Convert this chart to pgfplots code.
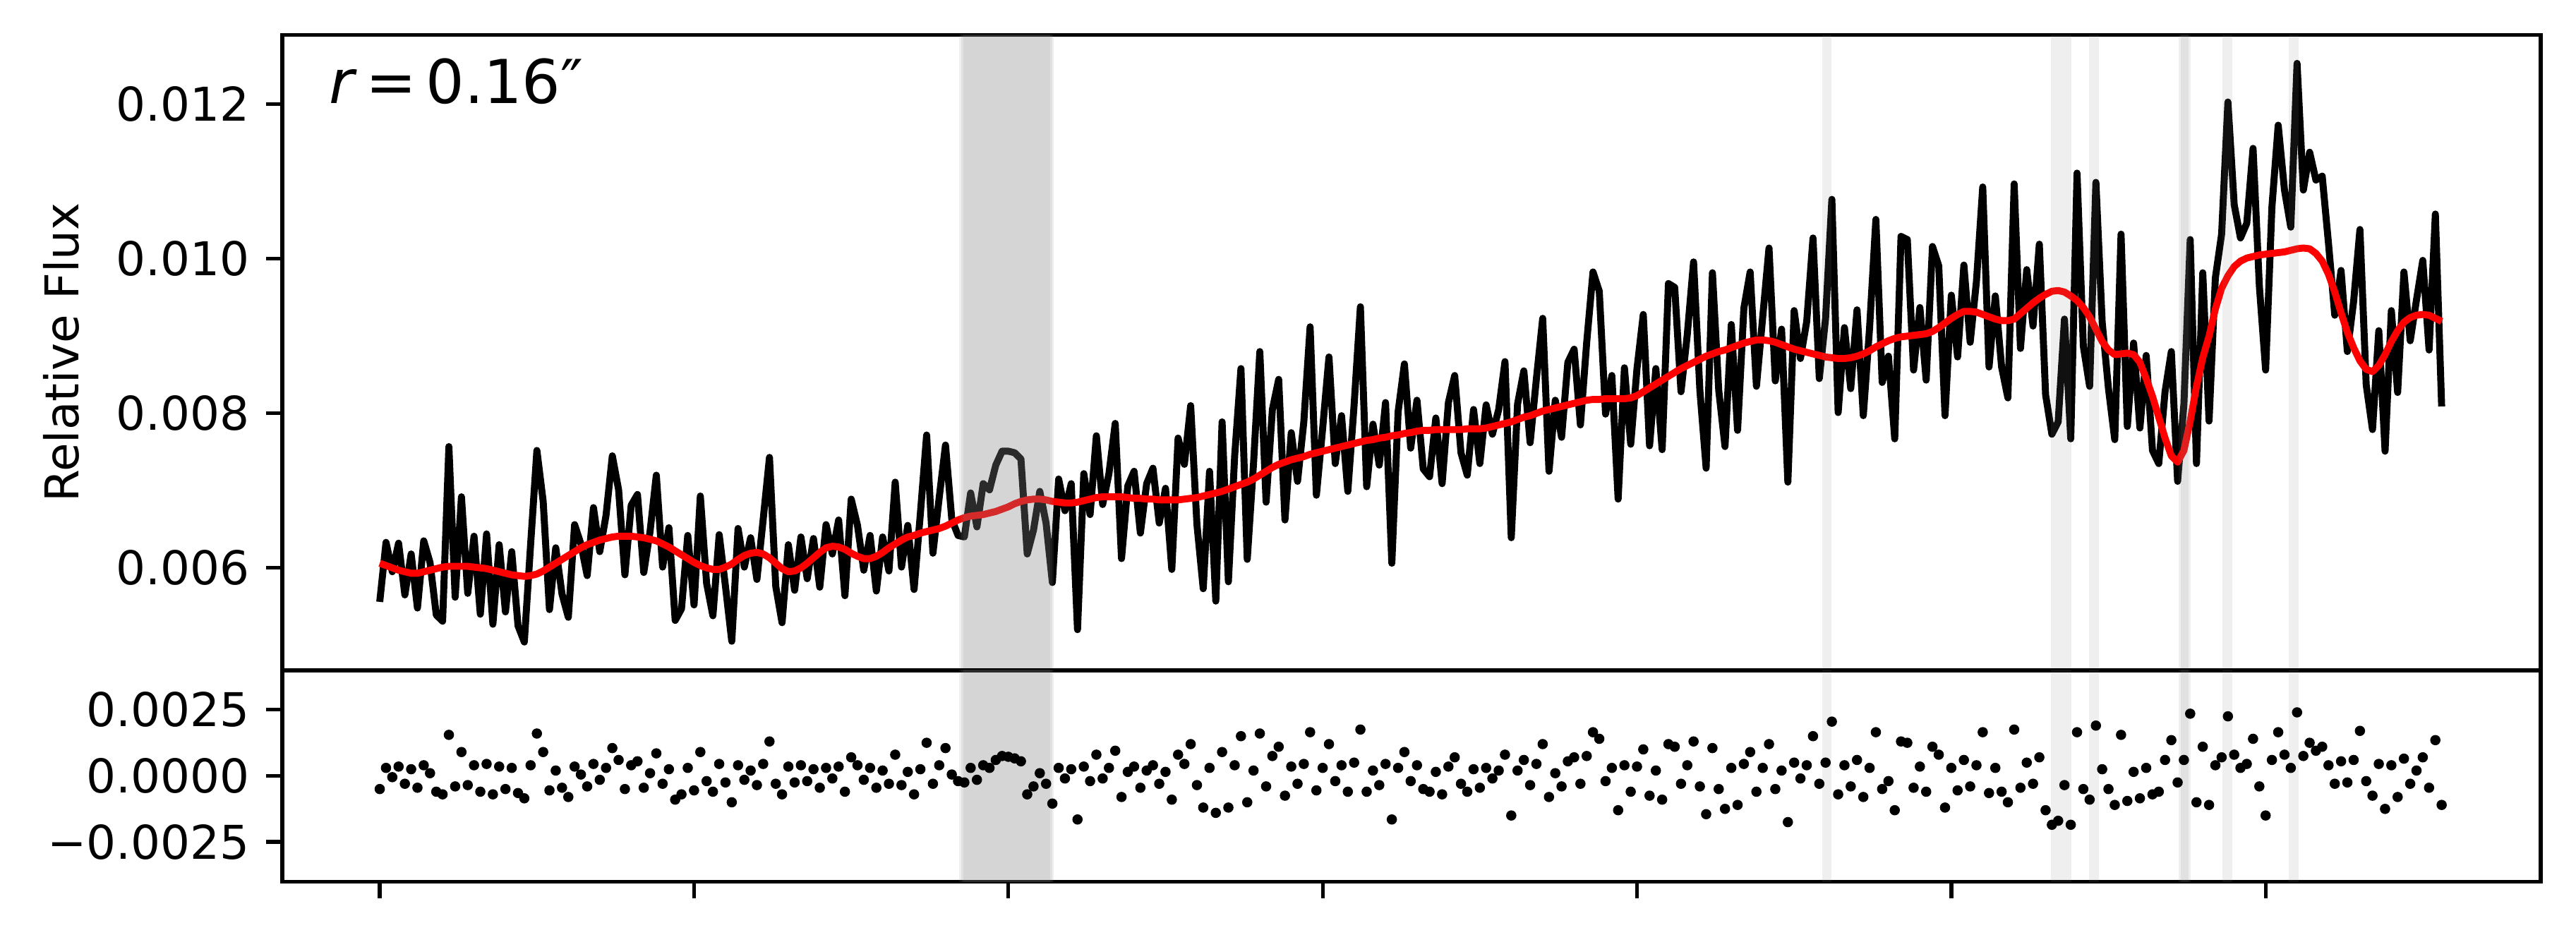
\documentclass[border=0pt]{standalone}
\usepackage{fontspec}
\setmainfont{DejaVu Sans}
\usepackage{pgfplots}
\usepackage{pgfplotstable}
\pgfplotsset{compat=1.18}

% x (tick units), m = model (red), r = residual; data = m + r
\pgfplotstableread{
x m r
0.00 0.00606 -0.00050
0.02 0.00603 0.00030
0.04 0.00600 -0.00005
0.06 0.00597 0.00035
0.08 0.00595 -0.00030
0.10 0.00593 0.00025
0.12 0.00593 -0.00045
0.14 0.00595 0.00040
0.16 0.00597 0.00010
0.18 0.00599 -0.00060
0.20 0.00601 -0.00070
0.22 0.00602 0.00155
0.24 0.00602 -0.00040
0.26 0.00602 0.00090
0.28 0.00602 -0.00035
0.30 0.00601 0.00040
0.32 0.00600 -0.00060
0.34 0.00599 0.00045
0.36 0.00597 -0.00070
0.38 0.00595 0.00035
0.40 0.00593 -0.00050
0.42 0.00591 0.00030
0.44 0.00590 -0.00065
0.46 0.00589 -0.00085
0.48 0.00590 0.00040
0.50 0.00592 0.00160
0.52 0.00596 0.00090
0.54 0.00601 -0.00055
0.56 0.00606 0.00020
0.58 0.00611 -0.00045
0.60 0.00616 -0.00080
0.62 0.00621 0.00035
0.64 0.00626 0.00005
0.66 0.00630 -0.00040
0.68 0.00633 0.00045
0.70 0.00636 -0.00015
0.72 0.00638 0.00030
0.74 0.00640 0.00105
0.76 0.00641 0.00060
0.78 0.00641 -0.00050
0.80 0.00641 0.00040
0.82 0.00640 0.00055
0.84 0.00639 -0.00045
0.86 0.00637 0.00010
0.88 0.00635 0.00085
0.90 0.00631 -0.00030
0.92 0.00627 0.00025
0.94 0.00622 -0.00090
0.96 0.00617 -0.00070
0.98 0.00612 0.00030
1.00 0.00607 -0.00055
1.02 0.00603 0.00090
1.04 0.00600 -0.00020
1.06 0.00598 -0.00060
1.08 0.00598 0.00045
1.10 0.00601 -0.00025
1.12 0.00605 -0.00100
1.14 0.00611 0.00040
1.16 0.00616 -0.00015
1.18 0.00619 0.00020
1.20 0.00620 -0.00035
1.22 0.00618 0.00045
1.24 0.00613 0.00130
1.26 0.00606 -0.00030
1.28 0.00599 -0.00070
1.30 0.00595 0.00035
1.32 0.00596 -0.00025
1.34 0.00600 0.00040
1.36 0.00606 -0.00020
1.38 0.00613 0.00025
1.40 0.00620 -0.00045
1.42 0.00626 0.00030
1.44 0.00628 -0.00010
1.46 0.00627 0.00035
1.48 0.00624 -0.00060
1.50 0.00619 0.00070
1.52 0.00615 0.00040
1.54 0.00612 -0.00015
1.56 0.00612 0.00030
1.58 0.00615 -0.00045
1.60 0.00620 0.00020
1.62 0.00626 -0.00030
1.64 0.00631 0.00080
1.66 0.00636 -0.00035
1.68 0.00640 0.00015
1.70 0.00642 -0.00070
1.72 0.00645 0.00025
1.74 0.00647 0.00125
1.76 0.00649 -0.00030
1.78 0.00651 0.00040
1.80 0.00654 0.00105
1.82 0.00658 0.00005
1.84 0.00662 -0.00020
1.86 0.00665 -0.00025
1.88 0.00667 0.00030
1.90 0.00668 -0.00015
1.92 0.00669 0.00040
1.94 0.00671 0.00030
1.96 0.00673 0.00060
1.98 0.00676 0.00075
2.00 0.00679 0.00072
2.02 0.00683 0.00066
2.04 0.00686 0.00055
2.06 0.00688 -0.00070
2.08 0.00689 -0.00040
2.10 0.00689 0.00010
2.12 0.00688 -0.00030
2.14 0.00686 -0.00105
2.16 0.00685 0.00030
2.18 0.00684 -0.00010
2.20 0.00684 0.00025
2.22 0.00685 -0.00165
2.24 0.00687 0.00035
2.26 0.00689 -0.00020
2.28 0.00691 0.00080
2.30 0.00692 -0.00010
2.32 0.00692 0.00030
2.34 0.00692 0.00095
2.36 0.00692 -0.00080
2.38 0.00691 0.00015
2.40 0.00690 0.00035
2.42 0.00690 -0.00045
2.44 0.00689 0.00020
2.46 0.00689 0.00040
2.48 0.00688 -0.00030
2.50 0.00688 0.00015
2.52 0.00688 -0.00090
2.54 0.00688 0.00080
2.56 0.00689 0.00045
2.58 0.00690 0.00120
2.60 0.00691 -0.00035
2.62 0.00693 -0.00120
2.64 0.00695 0.00030
2.66 0.00697 -0.00140
2.68 0.00699 0.00090
2.70 0.00702 -0.00120
2.72 0.00705 0.00040
2.74 0.00708 0.00150
2.76 0.00711 -0.00100
2.78 0.00715 0.00020
2.80 0.00720 0.00160
2.82 0.00725 -0.00040
2.84 0.00730 0.00075
2.86 0.00734 0.00110
2.88 0.00737 -0.00075
2.90 0.00740 0.00035
2.92 0.00742 -0.00030
2.94 0.00744 0.00045
2.96 0.00747 0.00165
2.98 0.00749 -0.00055
3.00 0.00751 0.00030
3.02 0.00753 0.00120
3.04 0.00755 -0.00020
3.06 0.00757 0.00040
3.08 0.00759 -0.00060
3.10 0.00761 0.00050
3.12 0.00763 0.00175
3.14 0.00765 -0.00060
3.16 0.00766 0.00020
3.18 0.00768 -0.00035
3.20 0.00769 0.00045
3.22 0.00771 -0.00165
3.24 0.00772 0.00030
3.26 0.00774 0.00090
3.28 0.00775 -0.00020
3.30 0.00777 0.00040
3.32 0.00778 -0.00050
3.34 0.00778 -0.00060
3.36 0.00779 0.00015
3.38 0.00779 -0.00070
3.40 0.00779 0.00035
3.42 0.00779 0.00070
3.44 0.00779 -0.00030
3.46 0.00780 -0.00060
3.48 0.00780 0.00025
3.50 0.00780 -0.00045
3.52 0.00781 0.00030
3.54 0.00783 -0.00010
3.56 0.00785 0.00020
3.58 0.00787 0.00080
3.60 0.00789 -0.00150
3.62 0.00792 0.00020
3.64 0.00795 0.00060
3.66 0.00797 -0.00035
3.68 0.00800 0.00045
3.70 0.00803 0.00120
3.72 0.00805 -0.00080
3.74 0.00807 0.00010
3.76 0.00809 -0.00040
3.78 0.00811 0.00055
3.80 0.00813 0.00070
3.82 0.00815 -0.00030
3.84 0.00817 0.00075
3.86 0.00818 0.00165
3.88 0.00818 0.00140
3.90 0.00819 -0.00020
3.92 0.00819 0.00030
3.94 0.00819 -0.00130
3.96 0.00819 0.00040
3.98 0.00820 -0.00060
4.00 0.00823 0.00035
4.02 0.00828 0.00100
4.04 0.00833 -0.00075
4.06 0.00838 0.00020
4.08 0.00843 -0.00090
4.10 0.00848 0.00120
4.12 0.00853 0.00110
4.14 0.00858 -0.00030
4.16 0.00862 0.00040
4.18 0.00866 0.00130
4.20 0.00870 -0.00040
4.22 0.00874 -0.00145
4.24 0.00877 0.00105
4.26 0.00880 -0.00050
4.28 0.00882 -0.00125
4.30 0.00885 0.00030
4.32 0.00888 -0.00110
4.34 0.00891 0.00045
4.36 0.00893 0.00090
4.38 0.00895 -0.00060
4.40 0.00895 0.00030
4.42 0.00894 0.00120
4.44 0.00892 -0.00050
4.46 0.00889 0.00020
4.48 0.00886 -0.00175
4.50 0.00883 0.00050
4.52 0.00881 -0.00010
4.54 0.00879 0.00040
4.56 0.00877 0.00150
4.58 0.00875 -0.00030
4.60 0.00873 0.00050
4.62 0.00872 0.00205
4.64 0.00871 -0.00070
4.66 0.00871 0.00040
4.68 0.00872 -0.00040
4.70 0.00874 0.00060
4.72 0.00877 -0.00080
4.74 0.00881 0.00030
4.76 0.00886 0.00165
4.78 0.00890 -0.00050
4.80 0.00894 -0.00020
4.82 0.00897 -0.00130
4.84 0.00899 0.00130
4.86 0.00900 0.00125
4.88 0.00901 -0.00045
4.90 0.00902 0.00035
4.92 0.00903 -0.00060
4.94 0.00906 0.00110
4.96 0.00911 0.00080
4.98 0.00917 -0.00120
5.00 0.00923 0.00030
5.02 0.00928 -0.00055
5.04 0.00932 0.00060
5.06 0.00932 -0.00040
5.08 0.00931 0.00040
5.10 0.00928 0.00165
5.12 0.00925 -0.00065
5.14 0.00922 0.00030
5.16 0.00920 -0.00060
5.18 0.00920 -0.00100
5.20 0.00922 0.00175
5.22 0.00929 -0.00045
5.24 0.00936 0.00050
5.26 0.00943 -0.00030
5.28 0.00949 0.00070
5.30 0.00954 -0.00130
5.32 0.00958 -0.00185
5.34 0.00959 -0.00170
5.36 0.00957 -0.00035
5.38 0.00952 -0.00185
5.40 0.00946 0.00165
5.42 0.00937 -0.00050
5.44 0.00925 -0.00090
5.46 0.00909 0.00190
5.48 0.00893 0.00025
5.50 0.00882 -0.00050
5.52 0.00876 -0.00110
5.54 0.00877 0.00155
5.56 0.00878 -0.00095
5.58 0.00876 0.00015
5.60 0.00866 -0.00085
5.62 0.00845 0.00030
5.64 0.00822 -0.00070
5.66 0.00795 -0.00060
5.68 0.00768 0.00060
5.70 0.00745 0.00135
5.72 0.00737 -0.00025
5.74 0.00752 0.00060
5.76 0.00790 0.00235
5.78 0.00835 -0.00100
5.80 0.00872 0.00110
5.82 0.00900 -0.00110
5.84 0.00935 0.00040
5.86 0.00962 0.00070
5.88 0.00978 0.00225
5.90 0.00990 0.00080
5.92 0.00997 0.00030
5.94 0.01001 0.00045
5.96 0.01003 0.00140
5.98 0.01005 -0.00040
6.00 0.01006 -0.00150
6.02 0.01007 0.00060
6.04 0.01008 0.00165
6.06 0.01009 0.00080
6.08 0.01011 0.00030
6.10 0.01013 0.00240
6.12 0.01014 0.00075
6.14 0.01013 0.00125
6.16 0.01007 0.00095
6.18 0.00997 0.00110
6.20 0.00980 0.00040
6.22 0.00957 -0.00030
6.24 0.00930 0.00055
6.26 0.00905 -0.00025
6.28 0.00885 0.00060
6.30 0.00868 0.00170
6.32 0.00857 -0.00020
6.34 0.00854 -0.00075
6.36 0.00862 0.00045
6.38 0.00876 -0.00125
6.40 0.00893 0.00040
6.42 0.00907 -0.00080
6.44 0.00918 0.00065
6.46 0.00924 -0.00030
6.48 0.00927 0.00020
6.50 0.00928 0.00070
6.52 0.00927 -0.00045
6.54 0.00923 0.00135
6.56 0.00919 -0.00110
}\spec

% masked wavelength ranges, drawn over the data
\newcommand{\vband}[4]{\addplot[draw=none, fill=gray, fill opacity=0.125, forget plot]
  coordinates {(#1,#3) (#2,#3) (#2,#4) (#1,#4)} -- cycle;}
\newcommand{\masks}[2]{%
  \vband{1.843}{2.144}{#1}{#2}
  \vband{1.850}{2.139}{#1}{#2}
  \vband{1.857}{2.134}{#1}{#2}
  \vband{4.589}{4.618}{#1}{#2}
  \vband{5.317}{5.348}{#1}{#2}
  \vband{5.348}{5.382}{#1}{#2}
  \vband{5.439}{5.469}{#1}{#2}
  \vband{5.723}{5.762}{#1}{#2}
  \vband{5.730}{5.755}{#1}{#2}
  \vband{5.863}{5.893}{#1}{#2}
  \vband{6.073}{6.105}{#1}{#2}}

\begin{document}
\begin{tikzpicture}
\useasboundingbox (0,0) rectangle (553pt,200.6pt);
\pgfplotsset{every axis/.append style={
  scale only axis, width=484.8pt, anchor=south west,
  xmin=-0.31, xmax=6.875,
  tick align=outside, major tick length=3.5pt,
  every tick/.style={black, line width=0.8pt},
  axis line style={line width=0.8pt},
  ytick pos=left, scaled y ticks=false}}

\begin{axis}[at={(60.6pt,56.68pt)}, height=136.42pt,
  ymin=0.004674, ymax=0.012898,
  xtick=\empty,
  ytick={0.006,0.008,0.010,0.012},
  yticklabels={0.006,0.008,0.010,0.012},
  ylabel={Relative Flux},
  ylabel style={at={(axis description cs:-0.0901,0.5)}, anchor=base}]
\addplot[black, line width=1.5pt, line join=round] table[x=x, y expr=\thisrow{m}+\thisrow{r}] {\spec};
\addplot[red, line width=1.5pt, line join=round] table[x=x, y=m] {\spec};
\masks{0.004}{0.0135}
\node[anchor=base west, inner sep=0pt, font=\fontsize{13}{15}\selectfont]
  at (rel axis cs:0.0203,0.892) {\textit{r}\hspace{0.15em}=\hspace{0.15em}0.16″};
\end{axis}

\begin{axis}[at={(60.6pt,11.26pt)}, height=45.42pt,
  ymin=-0.00401, ymax=0.00399,
  xtick={0,1,2,3,4,5,6}, xticklabels={,,,,,,}, xtick pos=left,
  ytick={-0.0025,0,0.0025},
  yticklabels={−0.0025,0.0000,0.0025}]
\addplot[only marks, mark=*, mark size=0.9pt, black] table[x=x, y=r] {\spec};
\masks{-0.005}{0.005}
\end{axis}
\end{tikzpicture}
\end{document}
